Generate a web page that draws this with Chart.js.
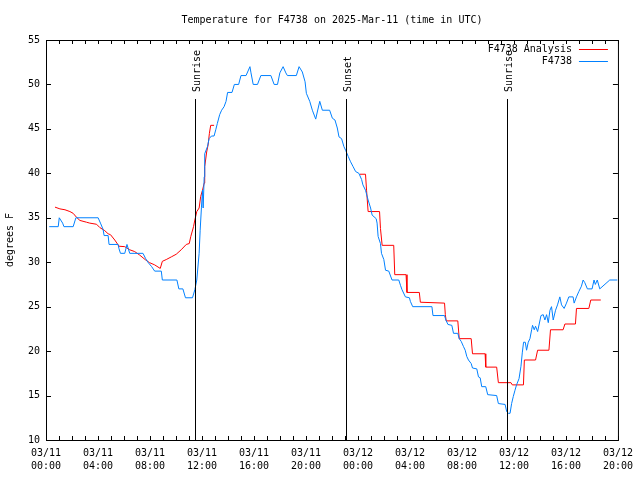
<!DOCTYPE html>
<html>
<head>
<meta charset="utf-8">
<title>Temperature for F4738</title>
<script src="https://cdn.jsdelivr.net/npm/chart.js@4.4.1/dist/chart.umd.min.js"></script>
<style>
  html, body { margin: 0; padding: 0; background: #fff; }
  canvas { display: block; }
</style>
</head>
<body>
<canvas id="tempChart" width="640" height="480"></canvas>
<script>
// observed temperature F4738: [hours since 03/11 00:00 UTC, deg F]
const obsF4738 = [
  [0.25, 34], [0.94, 34], [1.02, 35], [1.28, 34.4], [1.38, 34], [2.09, 34], [2.30, 35],
  [4.01, 35], [4.19, 34.4], [4.39, 33.7], [4.47, 33], [4.78, 33], [4.85, 32], [5.54, 32],
  [5.62, 31.5], [5.73, 31], [6.06, 31], [6.23, 32], [6.44, 31], [7.46, 31], [7.67, 30.4],
  [7.84, 30], [8.13, 29.5], [8.36, 29], [8.87, 29], [8.95, 28], [10.07, 28], [10.22, 27],
  [10.53, 27], [10.73, 26], [11.27, 26], [11.45, 26.9], [11.6, 28], [11.78, 31], [11.86, 33.6],
  [11.96, 36.2], [12.04, 38.1], [12.09, 36.1], [12.17, 39.6], [12.21, 42.2], [12.42, 43],
  [12.55, 43.9], [12.73, 44.2], [12.93, 44.2], [13.06, 44.9], [13.18, 45.6], [13.36, 46.6],
  [13.51, 47.1], [13.7, 47.5], [13.85, 48.1], [13.97, 49.1], [14.31, 49.1], [14.49, 50],
  [14.82, 50], [15.0, 51], [15.39, 51], [15.69, 52], [15.77, 51.3], [15.94, 50], [16.27, 50],
  [16.53, 51], [17.3, 51], [17.55, 50], [17.81, 50], [17.99, 51.3], [18.24, 52], [18.45, 51.3],
  [18.57, 51], [19.26, 51], [19.47, 52], [19.72, 51.4], [19.93, 50.3], [20.03, 49], [20.29, 48.1],
  [20.49, 47.1], [20.75, 46.1], [20.87, 46.9], [21.06, 48.1], [21.26, 47.1], [21.82, 47.1],
  [22.03, 46.2], [22.23, 46], [22.41, 45.1], [22.54, 44.1], [22.74, 43.9], [22.92, 43],
  [23.05, 42.6], [23.25, 41.9], [23.43, 41.3], [23.61, 40.8], [23.82, 40.2], [24.07, 40],
  [24.28, 39.3], [24.38, 38.7], [24.58, 38.1], [24.78, 37], [24.97, 36.1], [25.09, 35.3],
  [25.4, 34.9], [25.47, 34.4], [25.55, 32.9], [25.73, 32.1], [25.81, 31], [25.99, 30.3],
  [26.12, 29.1], [26.37, 29], [26.62, 28], [27.14, 28], [27.27, 27.4], [27.39, 26.9],
  [27.65, 26.1], [27.96, 26], [28.03, 25.6], [28.21, 25], [29.69, 25], [29.77, 24], [30.66, 24],
  [30.76, 23.5], [30.92, 23], [31.22, 22.9], [31.35, 22], [31.68, 22], [31.79, 21.4],
  [31.94, 21.1], [32.12, 20.5], [32.25, 20.1], [32.37, 19.4], [32.5, 19], [32.71, 18.6],
  [32.81, 18.1], [33.14, 18], [33.27, 17.1], [33.4, 17], [33.52, 16], [33.83, 16], [33.98, 15.1],
  [34.67, 15], [34.8, 14.1], [35.32, 14], [35.44, 13.2], [35.57, 13], [35.7, 13], [35.82, 14.1],
  [35.95, 14.9], [36.08, 15.6], [36.2, 16.2], [36.39, 16.9], [36.54, 18.3], [36.64, 19.8],
  [36.74, 21], [36.87, 21], [36.97, 20.1], [37.1, 21], [37.23, 21.4], [37.36, 22.4], [37.43, 22.9],
  [37.56, 22.4], [37.66, 22.8], [37.82, 22.2], [38.08, 24], [38.25, 24.1], [38.38, 23.5],
  [38.51, 24.1], [38.64, 23.2], [38.77, 24.6], [38.89, 25], [39.02, 23.5], [39.2, 24.6],
  [39.35, 25.2], [39.53, 26.1], [39.66, 25.2], [39.86, 24.8], [40.04, 25.4], [40.22, 26.1],
  [40.55, 26.1], [40.63, 25.4], [40.81, 26.1], [40.99, 26.7], [41.19, 27.3], [41.32, 28],
  [41.45, 27.7], [41.65, 27], [42.01, 27], [42.16, 28], [42.26, 27.5], [42.41, 28], [42.6, 27],
  [43.37, 28], [43.95, 28]
];

// analysis F4738, first day part (until ~13:00)
const analysisDay1 = [
  [0.69, 36.2], [1.07, 36], [1.46, 35.9], [1.84, 35.7], [2.09, 35.5], [2.35, 35.05], [2.61, 34.7],
  [3.12, 34.5], [3.37, 34.4], [3.89, 34.27], [4.14, 33.9], [4.52, 33.55], [4.78, 33.2],
  [4.96, 33.1], [5.29, 32.5], [5.62, 31.8], [6.06, 31.75], [6.44, 31.4], [6.82, 31.2],
  [7.21, 30.8], [7.67, 30.25], [7.97, 29.95], [8.36, 29.7], [8.79, 29.3], [8.95, 30.1],
  [9.25, 30.3], [9.64, 30.6], [10.02, 30.9], [10.4, 31.4], [10.79, 32], [11.02, 32.1],
  [11.14, 32.9], [11.35, 34], [11.45, 34.75], [11.6, 35.7], [11.78, 36.1], [11.9, 37.4],
  [12.04, 38.1], [12.17, 38.9], [12.21, 40.75], [12.36, 42.4], [12.47, 43.2], [12.57, 44.5],
  [12.67, 45.4], [12.93, 45.4]
];

// analysis F4738, after 00:00 on 03/12 (hourly steps)
const analysisDay2 = [
  [24.15, 39.9], [24.58, 39.9], [24.66, 38.1], [24.78, 35.7], [25.66, 35.7], [25.73, 33.8],
  [25.86, 31.9], [26.75, 31.9], [26.83, 28.6], [27.7, 28.6], [27.77, 26.6], [28.72, 26.6],
  [28.8, 25.5], [30.66, 25.4], [30.72, 24.1], [30.79, 23.4], [31.68, 23.4], [31.79, 21.4],
  [32.71, 21.4], [32.81, 19.7], [33.78, 19.7], [33.83, 18.2], [34.67, 18.2], [34.8, 16.45],
  [35.77, 16.45], [35.87, 16.2], [36.73, 16.2], [36.8, 19], [37.66, 19], [37.82, 20.1],
  [38.69, 20.1], [38.81, 22.4], [39.78, 22.4], [39.92, 23.05], [40.73, 23.05], [40.81, 24.8],
  [41.76, 24.8], [41.91, 25.75], [42.68, 25.75]
];

const sunEvents = [
  { label: 'Sunrise', hour: 11.45 },
  { label: 'Sunset', hour: 23.05 },
  { label: 'Sunrise', hour: 35.44 }
];

const xTickLabels = [
  ['03/11', '00:00'], ['03/11', '04:00'], ['03/11', '08:00'], ['03/11', '12:00'],
  ['03/11', '16:00'], ['03/11', '20:00'], ['03/12', '00:00'], ['03/12', '04:00'],
  ['03/12', '08:00'], ['03/12', '12:00'], ['03/12', '16:00'], ['03/12', '20:00']
];

const hourRange = [0, 44];
const tempRange = [10, 55];

const FONT = "'DejaVu Sans Mono', monospace";

const toPoints = pairs => pairs.map(([x, y]) => ({ x, y }));

// frame, inward ticks, sun markers and key, drawn gnuplot style
const gnuplotFrame = {
  id: 'gnuplotFrame',
  afterDatasetsDraw(chart) {
    const { ctx, chartArea: area, scales } = chart;
    const xs = scales.x, ys = scales.y;
    ctx.save();
    ctx.lineWidth = 1;
    ctx.strokeStyle = '#000';
    ctx.fillStyle = '#000';
    ctx.font = '10px ' + FONT;

    // sunrise / sunset lines
    sunEvents.forEach(ev => {
      const px = Math.round(xs.getPixelForValue(ev.hour)) + 0.5;
      ctx.beginPath();
      ctx.moveTo(px, area.top + 59);
      ctx.lineTo(px, area.bottom);
      ctx.stroke();
      ctx.save();
      ctx.translate(px + 1.5, area.top + 52);
      ctx.rotate(-Math.PI / 2);
      ctx.textAlign = 'left';
      ctx.textBaseline = 'middle';
      ctx.fillText(ev.label, 0, 0);
      ctx.restore();
    });

    // border
    ctx.strokeRect(area.left + 0.5, area.top + 0.5, area.right - area.left, area.bottom - area.top);

    // hourly ticks, bottom and top
    ctx.beginPath();
    for (let h = hourRange[0]; h <= hourRange[1]; h++) {
      const px = Math.round(xs.getPixelForValue(h)) + 0.5;
      ctx.moveTo(px, area.bottom);
      ctx.lineTo(px, area.bottom - 4);
      ctx.moveTo(px, area.top);
      ctx.lineTo(px, area.top + 4);
    }
    // y ticks, left and right
    for (let t = tempRange[0]; t <= tempRange[1]; t += 5) {
      const py = Math.round(ys.getPixelForValue(t)) + 0.5;
      ctx.moveTo(area.left, py);
      ctx.lineTo(area.left + 5, py);
      ctx.moveTo(area.right, py);
      ctx.lineTo(area.right - 5, py);
    }
    ctx.stroke();

    // key
    chart.data.datasets.forEach((ds, i) => {
      const y = area.top + 9 + i * 12;
      ctx.fillStyle = '#000';
      ctx.textAlign = 'right';
      ctx.textBaseline = 'middle';
      ctx.fillText(ds.label, area.right - 46, y);
      ctx.strokeStyle = ds.borderColor;
      ctx.beginPath();
      ctx.moveTo(area.right - 39, y + 0.5);
      ctx.lineTo(area.right - 10, y + 0.5);
      ctx.stroke();
    });
    ctx.restore();
  }
};

const analysisPoints = toPoints(analysisDay1).concat([{ x: 18, y: null }], toPoints(analysisDay2));

new Chart(document.getElementById('tempChart'), {
  type: 'line',
  data: {
    datasets: [
      {
        label: 'F4738 Analysis',
        data: analysisPoints,
        borderColor: '#ff0000',
        borderWidth: 1,
        pointRadius: 0,
        spanGaps: false,
        order: 1
      },
      {
        label: 'F4738',
        data: toPoints(obsF4738),
        borderColor: '#0080ff',
        borderWidth: 1,
        pointRadius: 0,
        order: 0
      }
    ]
  },
  options: {
    responsive: false,
    animation: false,
    events: [],
    layout: { padding: { top: 0, right: 20, bottom: 0, left: 0 } },
    plugins: {
      legend: { display: false },
      tooltip: { enabled: false },
      title: {
        display: true,
        text: 'Temperature for F4738 on 2025-Mar-11 (time in UTC)',
        fullSize: false,
        color: '#000',
        font: { family: FONT, size: 10, weight: 'normal' },
        padding: { top: 14, bottom: 14 }
      }
    },
    scales: {
      x: {
        type: 'linear',
        min: hourRange[0],
        max: hourRange[1],
        afterFit: scale => { scale.height = 40; },
        grid: { display: false, drawTicks: false },
        border: { display: false },
        ticks: {
          stepSize: 4,
          autoSkip: false,
          maxRotation: 0,
          minRotation: 0,
          padding: 7,
          color: '#000',
          font: { family: FONT, size: 10, lineHeight: 1.3 },
          callback: (value, index) => xTickLabels[index]
        }
      },
      y: {
        min: tempRange[0],
        max: tempRange[1],
        afterFit: scale => { scale.width = 46; },
        grid: { display: false, drawTicks: false },
        border: { display: false },
        ticks: {
          stepSize: 5,
          padding: 6,
          color: '#000',
          font: { family: FONT, size: 10 }
        },
        title: {
          display: true,
          text: 'degrees F',
          color: '#000',
          font: { family: FONT, size: 10 },
          padding: { top: 4, bottom: 4 }
        }
      }
    }
  },
  plugins: [gnuplotFrame]
});
</script>
</body>
</html>
